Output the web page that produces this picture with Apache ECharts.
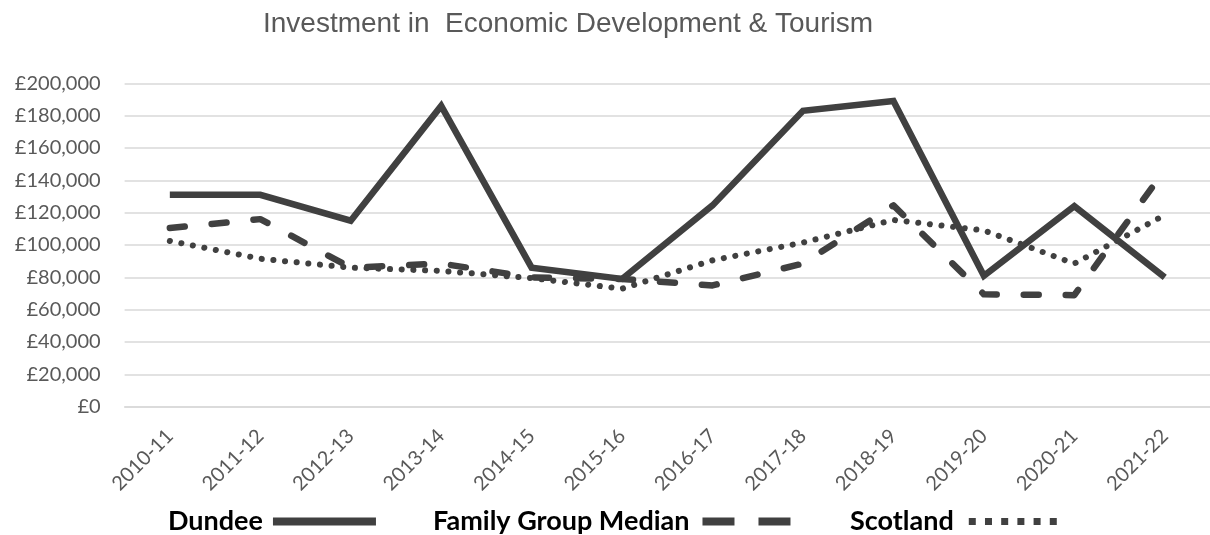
<!DOCTYPE html>
<html>
<head>
<meta charset="utf-8">
<title>Investment in Economic Development & Tourism</title>
<script src="https://cdn.jsdelivr.net/npm/echarts@6/dist/echarts.min.js"></script>
<style>
  html, body { margin: 0; padding: 0; background: #fff; }
  #chart { width: 1210px; height: 535px; }
</style>
</head>
<body>
<div id="chart"></div>
<script>
const years = ['2010-11', '2011-12', '2012-13', '2013-14', '2014-15', '2015-16',
  '2016-17', '2017-18', '2018-19', '2019-20', '2020-21', '2021-22'];
const dundee = [131000, 131000, 115000, 186000, 86000, 79000, 124500, 183000, 189000, 81000, 124000, 80000];
const familyMedian = [110500, 116000, 86000, 88500, 80000, 79000, 75000, 88500, 124500, 69500, 69000, 146500];
const scotland = [102500, 91500, 86000, 84000, 79500, 73000, 90500, 101500, 115500, 109000, 88500, 118500];

const ink = '#404040';
const grey = '#595959';

const fmtPounds = (v) => '£' + v.toLocaleString('en-GB');

// one legend per series, text first and the line sample after it
const legendItem = (name, left, width, line, gap) => ({
  data: [name],
  left: left,
  top: 508,
  padding: 0,
  align: 'right',
  itemWidth: width,
  itemHeight: 14,
  itemStyle: { opacity: 0 },
  lineStyle: Object.assign({ color: ink, cap: 'butt' }, line),
  textStyle: {
    fontFamily: 'Lato',
    fontWeight: 'bold',
    fontSize: 27,
    color: '#000',
    padding: [0, gap, 0, 0]
  }
});

const el = document.getElementById('chart');
const myChart = echarts.init(el);
myChart.setOption({
  animation: false,
  title: {
    text: 'Investment in  Economic Development & Tourism',
    left: 263,
    top: 10,
    padding: 0,
    textStyle: {
      fontFamily: 'Liberation Sans',
      fontWeight: 'normal',
      fontSize: 28,
      color: grey
    }
  },
  legend: [
    legendItem('Dundee', 168, 103, { width: 8, type: 'solid' }, 5),
    legendItem('Family Group Median', 433, 88, { width: 8, type: [32, 24] }, 8),
    legendItem('Scotland', 850, 88, { width: 7, type: [7, 9.2] }, 10)
  ],
  grid: {
    left: 124.6,
    top: 83.3,
    width: 1088.7,
    height: 323.4
  },
  xAxis: {
    type: 'category',
    data: years,
    boundaryGap: true,
    axisLine: { show: true, lineStyle: { color: '#d9d9d9', width: 1.5 } },
    axisTick: { show: false },
    axisLabel: {
      rotate: 45,
      margin: 26,
      interval: 0,
      fontFamily: 'Lato',
      fontSize: 20,
      color: grey
    }
  },
  yAxis: {
    type: 'value',
    min: 0,
    max: 200000,
    interval: 20000,
    axisLine: { show: false },
    axisTick: { show: false },
    splitLine: { lineStyle: { color: '#d9d9d9', width: 1.5 } },
    axisLabel: {
      margin: 24,
      fontFamily: 'Lato',
      fontSize: 20,
      color: grey,
      formatter: fmtPounds
    }
  },
  series: [
    {
      name: 'Dundee',
      type: 'line',
      data: dundee,
      symbol: 'none',
      z: 3,
      lineStyle: { color: ink, width: 6.5, join: 'miter' },
      itemStyle: { color: ink }
    },
    {
      name: 'Family Group Median',
      type: 'line',
      data: familyMedian,
      symbol: 'none',
      z: 2,
      lineStyle: { color: ink, width: 6.5, type: [15, 27], cap: 'round', join: 'round' },
      itemStyle: { color: ink }
    },
    {
      name: 'Scotland',
      type: 'line',
      data: scotland,
      symbol: 'none',
      z: 1,
      lineStyle: { color: ink, width: 6, type: [0.1, 11.6], cap: 'round', join: 'round' },
      itemStyle: { color: ink }
    }
  ]
});
</script>
</body>
</html>
